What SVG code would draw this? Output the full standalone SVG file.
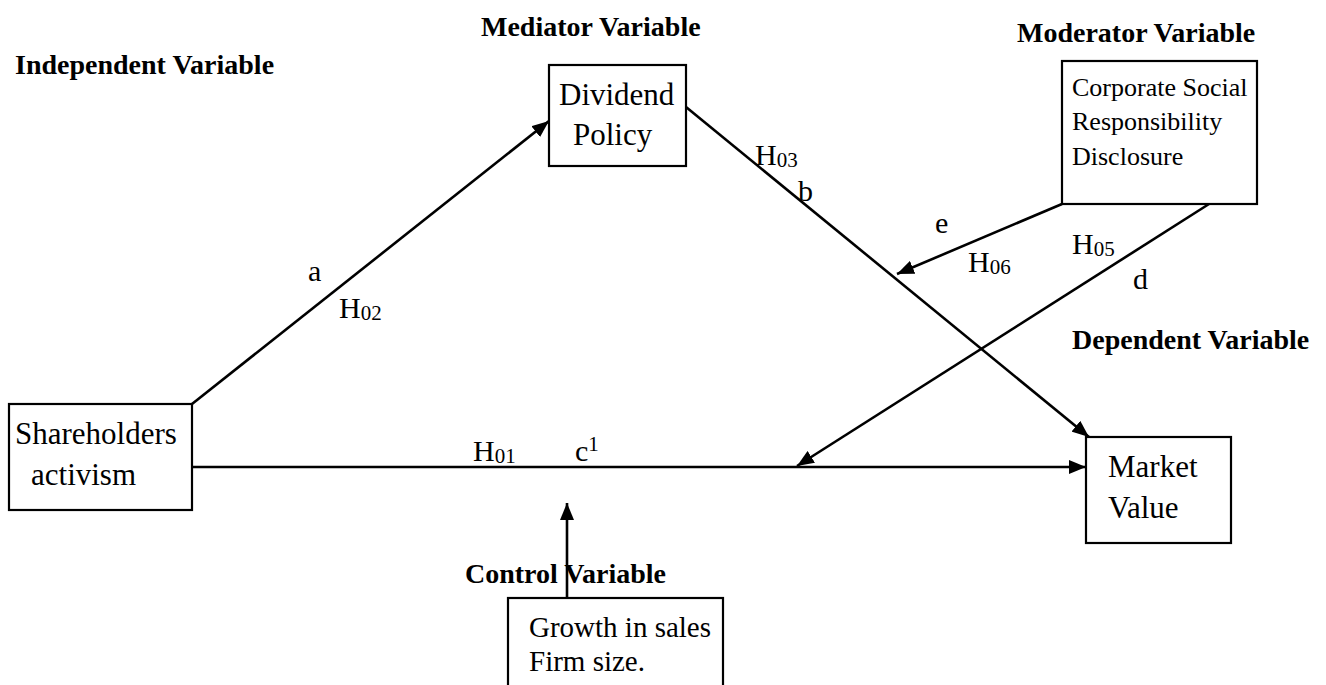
<svg xmlns="http://www.w3.org/2000/svg" width="1326" height="685" viewBox="0 0 1326 685">
  <style>
    text { font-family: "Liberation Serif", "Times New Roman", serif; fill: #000; }
    .hdr { font-size: 28px; font-weight: bold; }
    .box { fill: #fff; stroke: #000; stroke-width: 2.2; }
    .big { font-size: 31px; }
    .mod { font-size: 26px; }
    .ctl { font-size: 29px; }
    .lbl { font-size: 30px; }
    .sub { font-size: 21px; }
    .edge { stroke: #000; stroke-width: 2.6; fill: none; }
  </style>
  <defs>
    <marker id="arrow" markerUnits="userSpaceOnUse" markerWidth="18" markerHeight="14" refX="17" refY="7" orient="auto">
      <path d="M0,0 L17,7 L0,14 z" fill="#000"/>
    </marker>
  </defs>

  <rect width="1326" height="685" fill="#fff"/>

  <!-- section headings -->
  <text class="hdr" x="15" y="74">Independent Variable</text>
  <text class="hdr" x="481" y="36">Mediator Variable</text>
  <text class="hdr" x="1017" y="42">Moderator Variable</text>
  <text class="hdr" x="1072" y="349">Dependent Variable</text>
  <text class="hdr" x="465" y="583">Control Variable</text>

  <!-- connectors -->
  <g id="connectors">
    <line class="edge" x1="192" y1="404" x2="549" y2="121" marker-end="url(#arrow)"/>
    <line class="edge" x1="686" y1="107" x2="1089" y2="437" marker-end="url(#arrow)"/>
    <line class="edge" x1="187" y1="467" x2="1086" y2="467" marker-end="url(#arrow)"/>
    <line class="edge" x1="1062" y1="204" x2="897" y2="274" marker-end="url(#arrow)"/>
    <line class="edge" x1="1209" y1="204" x2="797" y2="466" marker-end="url(#arrow)"/>
    <line class="edge" x1="567" y1="598" x2="567" y2="503" marker-end="url(#arrow)"/>
  </g>

  <!-- path labels -->
  <g id="labels">
    <text class="lbl" x="308" y="281">a</text>
    <text class="lbl" x="339" y="318">H<tspan class="sub" dy="2">02</tspan></text>
    <text class="lbl" x="755" y="165">H<tspan class="sub" dy="2">03</tspan></text>
    <text class="lbl" x="798" y="201">b</text>
    <text class="lbl" x="935" y="233">e</text>
    <text class="lbl" x="968" y="272">H<tspan class="sub" dy="2">06</tspan></text>
    <text class="lbl" x="1072" y="254">H<tspan class="sub" dy="2">05</tspan></text>
    <text class="lbl" x="1133" y="289">d</text>
    <text class="lbl" x="473" y="461">H<tspan class="sub" dy="2">01</tspan></text>
    <text class="lbl" x="575" y="461">c<tspan class="sub" dy="-10">1</tspan></text>
  </g>

  <!-- nodes -->
  <g id="shareholders-activism">
    <rect class="box" x="9" y="404" width="183" height="106"/>
    <text class="big" x="15" y="444">Shareholders</text>
    <text class="big" x="31" y="485">activism</text>
  </g>

  <g id="dividend-policy">
    <rect class="box" x="549" y="65" width="137" height="101"/>
    <text class="big" x="559" y="105">Dividend</text>
    <text class="big" x="573" y="145">Policy</text>
  </g>

  <g id="csr-disclosure">
    <rect class="box" x="1062" y="61" width="195" height="143"/>
    <text class="mod" x="1072" y="96">Corporate Social</text>
    <text class="mod" x="1072" y="130">Responsibility</text>
    <text class="mod" x="1072" y="165">Disclosure</text>
  </g>

  <g id="market-value">
    <rect class="box" x="1086" y="437" width="145" height="106"/>
    <text class="big" x="1108" y="477">Market</text>
    <text class="big" x="1108" y="518">Value</text>
  </g>

  <g id="control-variables">
    <rect class="box" x="508" y="598" width="215" height="110"/>
    <text class="ctl" x="529" y="637">Growth in sales</text>
    <text class="ctl" x="529" y="671">Firm size.</text>
  </g>
</svg>
